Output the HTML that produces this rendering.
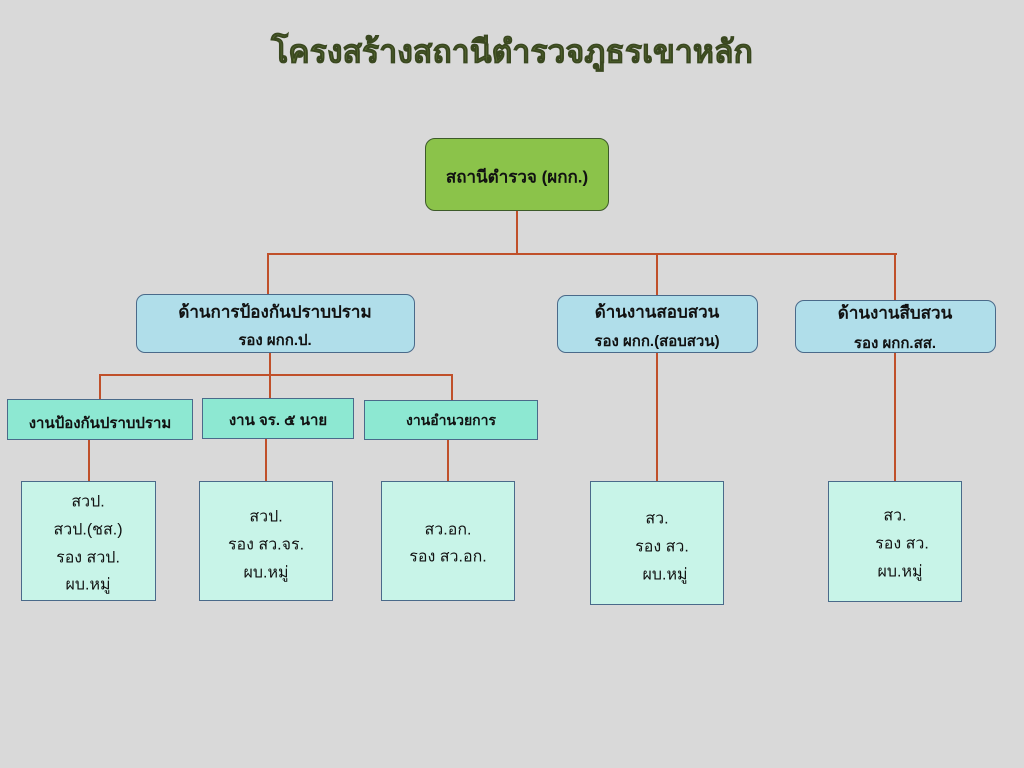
<!DOCTYPE html>
<html><head><meta charset="utf-8"><style>
*{margin:0;padding:0;box-sizing:border-box}
body{width:1024px;height:768px;background:#d9d9d9;position:relative;overflow:hidden;font-family:"Liberation Sans","DejaVu Sans","Noto Sans CJK SC",sans-serif;color:#111}
.b{position:absolute;border:1px solid #4a6a8a}
.l{position:absolute;background:#c0502a}
.t{position:absolute;white-space:nowrap;transform:translate(-50%,-50%);font-size:16px}
.bold{font-weight:bold}
</style></head><body>
<div class="t bold" style="left:512px;top:52px;font-size:32px;color:#566a30;-webkit-text-stroke:0.8px #3a4820">โครงสร้างสถานีตำรวจภูธรเขาหลัก</div>

<!-- connectors -->
<div class="l" style="left:516px;top:211px;width:2px;height:44px"></div>
<div class="l" style="left:267px;top:253px;width:630px;height:2px"></div>
<div class="l" style="left:267px;top:253px;width:2px;height:42px"></div>
<div class="l" style="left:656px;top:253px;width:2px;height:43px"></div>
<div class="l" style="left:894px;top:253px;width:2px;height:48px"></div>
<div class="l" style="left:269px;top:353px;width:2px;height:46px"></div>
<div class="l" style="left:99px;top:374px;width:354px;height:2px"></div>
<div class="l" style="left:99px;top:374px;width:2px;height:26px"></div>
<div class="l" style="left:451px;top:374px;width:2px;height:26px"></div>
<div class="l" style="left:88px;top:440px;width:2px;height:42px"></div>
<div class="l" style="left:265px;top:439px;width:2px;height:43px"></div>
<div class="l" style="left:447px;top:440px;width:2px;height:42px"></div>
<div class="l" style="left:656px;top:353px;width:2px;height:129px"></div>
<div class="l" style="left:894px;top:353px;width:2px;height:129px"></div>

<!-- top -->
<div class="b" style="left:425px;top:138px;width:184px;height:73px;background:#8bc34a;border-color:#3d5a2a;border-radius:10px"></div>
<div class="t bold" style="left:517px;top:177px;font-size:17px">สถานีตำรวจ (ผกก.)</div>

<!-- level 2 -->
<div class="b" style="left:136px;top:294px;width:279px;height:59px;background:#b0deea;border-radius:9px"></div>
<div class="t bold" style="left:275px;top:312px;font-size:17px">ด้านการป้องกันปราบปราม</div>
<div class="t bold" style="left:275px;top:340px;font-size:15px">รอง ผกก.ป.</div>
<div class="b" style="left:557px;top:295px;width:201px;height:58px;background:#b0deea;border-radius:9px"></div>
<div class="t bold" style="left:657px;top:312px;font-size:17px">ด้านงานสอบสวน</div>
<div class="t bold" style="left:657px;top:341px;font-size:15px">รอง ผกก.(สอบสวน)</div>
<div class="b" style="left:795px;top:300px;width:201px;height:53px;background:#b0deea;border-radius:9px"></div>
<div class="t bold" style="left:895px;top:313px;font-size:17px">ด้านงานสืบสวน</div>
<div class="t bold" style="left:895px;top:343px;font-size:15px">รอง ผกก.สส.</div>

<!-- level 3 -->
<div class="b" style="left:7px;top:399px;width:186px;height:41px;background:#8de8d2"></div>
<div class="t bold" style="left:100px;top:423px;font-size:15px">งานป้องกันปราบปราม</div>
<div class="b" style="left:202px;top:398px;width:152px;height:41px;background:#8de8d2"></div>
<div class="t bold" style="left:278px;top:420px;font-size:15px">งาน จร. ๕ นาย</div>
<div class="b" style="left:364px;top:400px;width:174px;height:40px;background:#8de8d2"></div>
<div class="t bold" style="left:451px;top:421px;font-size:14px">งานอำนวยการ</div>

<!-- bottom -->
<div class="b" style="left:21px;top:481px;width:135px;height:120px;background:#c8f4e8"></div>
<div class="t" style="left:88px;top:502px">สวป.</div>
<div class="t" style="left:88px;top:530px">สวป.(ชส.)</div>
<div class="t" style="left:88px;top:558px">รอง สวป.</div>
<div class="t" style="left:88px;top:585px">ผบ.หมู่</div>

<div class="b" style="left:199px;top:481px;width:134px;height:120px;background:#c8f4e8"></div>
<div class="t" style="left:266px;top:517px">สวป.</div>
<div class="t" style="left:266px;top:545px">รอง สว.จร.</div>
<div class="t" style="left:266px;top:573px">ผบ.หมู่</div>

<div class="b" style="left:381px;top:481px;width:134px;height:120px;background:#c8f4e8"></div>
<div class="t" style="left:448px;top:530px">สว.อก.</div>
<div class="t" style="left:448px;top:557px">รอง สว.อก.</div>

<div class="b" style="left:590px;top:481px;width:134px;height:124px;background:#c8f4e8"></div>
<div class="t" style="left:657px;top:519px">สว.</div>
<div class="t" style="left:662px;top:547px">รอง สว.</div>
<div class="t" style="left:665px;top:575px">ผบ.หมู่</div>

<div class="b" style="left:828px;top:481px;width:134px;height:121px;background:#c8f4e8"></div>
<div class="t" style="left:895px;top:516px">สว.</div>
<div class="t" style="left:902px;top:544px">รอง สว.</div>
<div class="t" style="left:900px;top:572px">ผบ.หมู่</div>
</body></html>
